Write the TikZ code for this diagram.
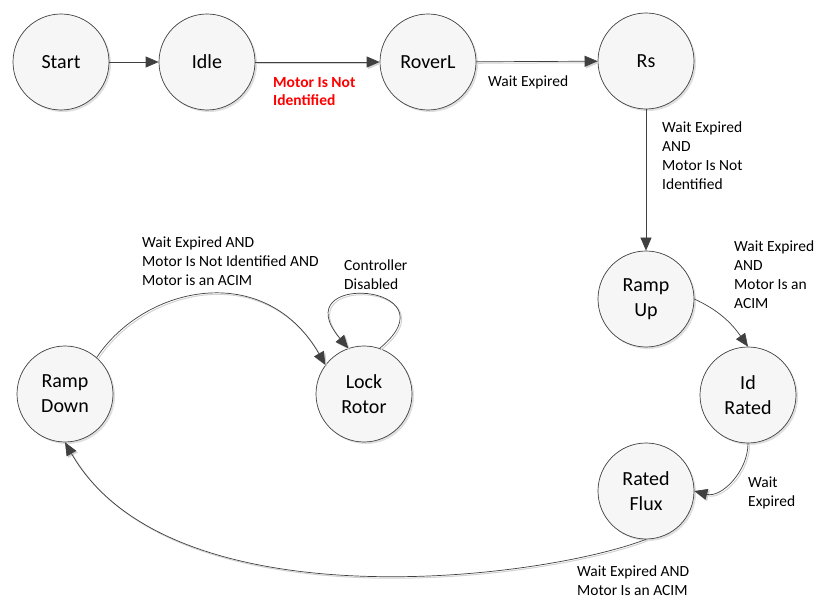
\documentclass[tikz,border=0pt]{standalone}
\usepackage{fontspec}
\setmainfont{Carlito}
\usetikzlibrary{arrows.meta,shadows}
\definecolor{edgecol}{RGB}{64,64,64}
\definecolor{statefill}{RGB}{246,246,246}
\definecolor{lblred}{RGB}{255,0,0}
\begin{document}
\begin{tikzpicture}[x=1pt,y=1pt,
 state/.style={circle, draw=edgecol, line width=0.7pt, fill=statefill, minimum size=96pt, inner sep=0pt, align=center, font=\fontsize{20}{25}\selectfont, drop shadow={shadow xshift=2pt, shadow yshift=-2pt, opacity=0.25}},
 lbl/.style={anchor=north west, inner sep=0pt, align=left, font=\fontsize{15.5}{18.7}\selectfont},
 conn/.style={draw=edgecol, line width=0.7pt, -{Triangle[length=13pt,width=11pt]}},
 shconn/.style={conn, preaction={draw=gray!35, line width=1pt, transform canvas={shift={(1.5pt,-1.5pt)}}}}
]
\useasboundingbox (0,0) rectangle (817,-601);

\node[state] (start) at (61,-62) {Start};
\node[state] (idle) at (207,-62) {Idle};
\node[state] (roverl) at (428,-62) {RoverL};
\node[state] (rs) at (646,-61) {Rs};
\node[state] (rampup) at (646,-299) {Ramp\\Up};
\node[state] (idrated) at (748,-395) {Id\\Rated};
\node[state] (ratedflux) at (646,-491) {Rated\\Flux};
\node[state] (rampdown) at (65,-394) {Ramp\\Down};
\node[state] (lockrotor) at (364,-394) {Lock\\Rotor};

\draw[conn] (start) -- (idle);
\draw[shconn] (idle) -- (roverl);
\draw[shconn] (roverl) -- (rs);
\draw[conn] (rs) -- (rampup);
\draw[conn] (rampup.east) to[out=-25,in=125] (idrated.north);
\draw[shconn] (idrated.south) to[out=-90,in=-15] (ratedflux.east);
\draw[shconn] (ratedflux.south) .. controls (540,-580) and (170,-625) .. (rampdown.south);
\draw[shconn] (rampdown.49) .. controls (145,-285) and (265,-260) .. (lockrotor.143);
\draw[shconn] (lockrotor.71) .. controls (458,-284) and (282,-270) .. (lockrotor.109);

\node[lbl, text=lblred, font=\fontsize{15.5}{18.7}\selectfont\bfseries] (l1) at (273,-77) {Motor Is Not\\Identified};
\node[lbl] (l2) at (488,-76) {Wait Expired};
\node[lbl] (l3) at (662,-122) {Wait Expired\\AND\\Motor Is Not\\Identified};
\node[lbl] (l4) at (734,-241) {Wait Expired\\AND\\Motor Is an\\ACIM};
\node[lbl] (l5) at (748,-477) {Wait\\Expired};
\node[lbl] (l6) at (577,-566) {Wait Expired AND\\Motor Is an ACIM};
\node[lbl] (l7) at (142,-237) {Wait Expired AND\\Motor Is Not Identified AND\\Motor is an ACIM};
\node[lbl] (l8) at (344,-260) {Controller\\Disabled};
\end{tikzpicture}
\end{document}
